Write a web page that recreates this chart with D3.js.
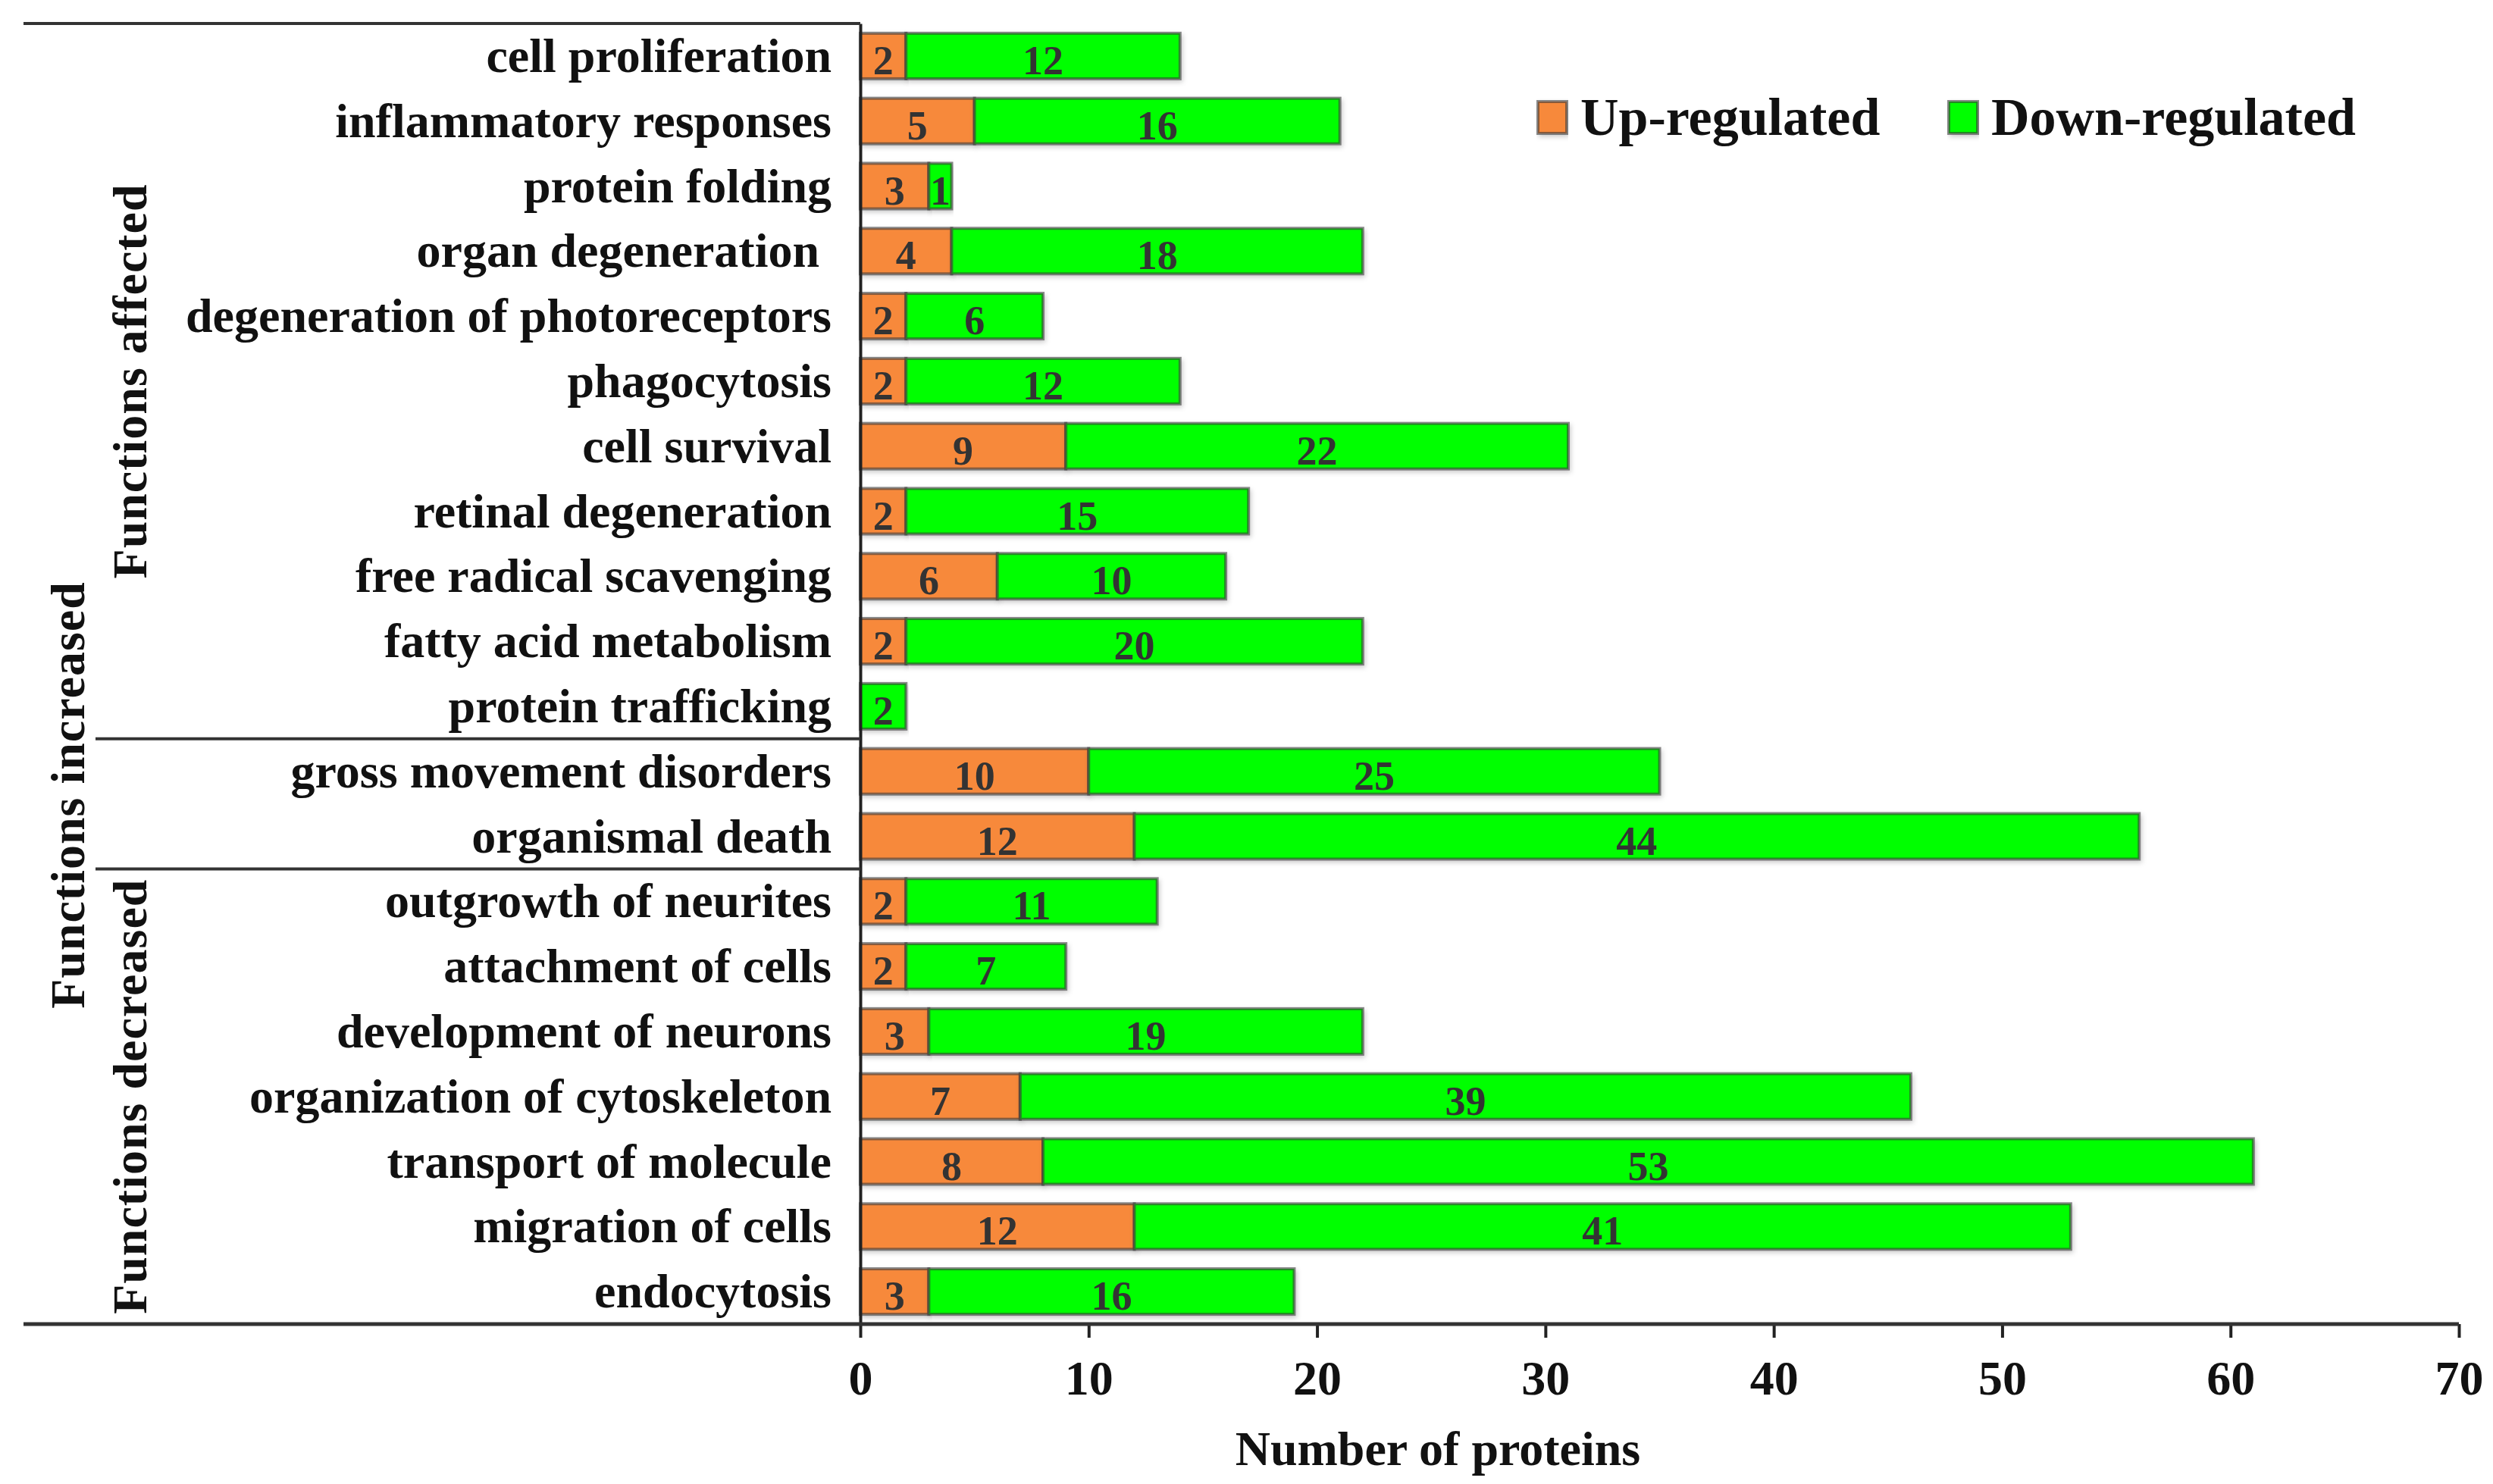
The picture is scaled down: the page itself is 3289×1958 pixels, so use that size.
<!DOCTYPE html>
<html>
<head>
<meta charset="utf-8">
<script src="https://cdn.jsdelivr.net/npm/d3@7"></script>
<style>
  html, body { margin: 0; padding: 0; background: #fff; }
  svg text { font-family: "Liberation Serif", "Times New Roman", serif; font-weight: bold; white-space: pre; }
</style>
</head>
<body>
<svg id="chart" width="3289" height="1958"></svg>
<script>
// категории (сверху вниз)
const categories = [
    "cell proliferation", "inflammatory responses", "protein folding", "organ degeneration ",
    "degeneration of photoreceptors", "phagocytosis", "cell survival", "retinal degeneration",
    "free radical scavenging", "fatty acid metabolism", "protein trafficking",
    "gross movement disorders", "organismal death",
    "outgrowth of neurites", "attachment of cells", "development of neurons",
    "organization of cytoskeleton", "transport of molecule", "migration of cells", "endocytosis"
];
const upValues   = [2, 5, 3, 4, 2, 2, 9, 2, 6, 2, 0, 10, 12, 2, 2, 3, 7, 8, 12, 3];
const downValues = [12, 16, 1, 18, 6, 12, 22, 15, 10, 20, 2, 25, 44, 11, 7, 19, 39, 53, 41, 16];
const xTicks = [0, 10, 20, 30, 40, 50, 60, 70];
const seriesNames = ["Up-regulated", "Down-regulated"];
// группы: подпись, первая и последняя категория
const groups = [
    { label: "Functions affected", from: 0, to: 10, level: 1 },
    { label: "Functions increased", from: 11, to: 12, level: 0 },
    { label: "Functions decreased", from: 13, to: 19, level: 1 }
];

const colors = ["#f7893b", "#00ff00"];
const svg = d3.select("#chart");

const area = { left: 1135, right: 3244, top: 31, bottom: 1747, outerLeft: 31 };

const scX = d3.scaleLinear().domain([0, 70]).range([area.left, area.right]);
const scY = d3.scaleBand().domain(categories).range([area.top, area.bottom])
    .paddingInner(0.3).paddingOuter(0.15);

// тень для столбцов
const defs = svg.append("defs");
const f = defs.append("filter").attr("id", "shadow")
    .attr("x", "-5%").attr("y", "-30%").attr("width", "110%").attr("height", "160%");
f.append("feDropShadow").attr("dx", 2).attr("dy", 3).attr("stdDeviation", 3)
    .attr("flood-color", "#000").attr("flood-opacity", 0.22);

// данные для стека
const rows = categories.map((c, i) => ({ cat: c, up: upValues[i], down: downValues[i] }));
const stack = d3.stack().keys(["up", "down"])(rows);

const gBars = svg.append("g");
stack.forEach((layer, k) => {
    gBars.selectAll(".seg" + k)
        .data(layer.filter(d => d[1] - d[0] > 0))
        .enter()
        .append("rect")
        .attr("x", d => scX(d[0]))
        .attr("y", d => scY(d.data.cat))
        .attr("width", d => scX(d[1]) - scX(d[0]))
        .attr("height", scY.bandwidth())
        .attr("fill", colors[k])
        .attr("stroke", "#3a3a3a")
        .attr("stroke-opacity", 0.6)
        .attr("stroke-width", 4)
        .attr("filter", "url(#shadow)");
});

// подписи значений
stack.forEach((layer, k) => {
    gBars.selectAll(".lab" + k)
        .data(layer.filter(d => d[1] - d[0] > 0))
        .enter()
        .append("text")
        .attr("x", d => (scX(d[0]) + scX(d[1])) / 2)
        .attr("y", d => scY(d.data.cat) + scY.bandwidth() / 2 + 24)
        .attr("text-anchor", "middle")
        .attr("font-size", 54)
        .attr("fill", "#333")
        .text(d => d[1] - d[0]);
});

// ось OY
const axisY = d3.axisLeft(scY).tickSize(0).tickPadding(38);
const gy = svg.append("g")
    .attr("transform", `translate(${area.left},0)`)
    .call(axisY);
gy.select(".domain").attr("stroke", "#222").attr("stroke-width", 4);
gy.selectAll("text")
    .attr("font-size", 64)
    .attr("fill", "#111")
    .attr("dy", 21);

// ось OX
const axisX = d3.axisBottom(scX).tickValues(xTicks).tickSize(18).tickSizeOuter(0).tickPadding(30);
const gx = svg.append("g")
    .attr("transform", `translate(0,${area.bottom})`)
    .call(axisX);
gx.select(".domain").remove();
gx.selectAll(".tick line").attr("stroke", "#222").attr("stroke-width", 4);
gx.selectAll("text")
    .attr("font-size", 64)
    .attr("fill", "#111")
    .attr("dy", "0.7em");

// рамка слева
const lineCol = "#333";
svg.append("line")
    .attr("x1", area.outerLeft).attr("x2", area.right)
    .attr("y1", area.bottom).attr("y2", area.bottom)
    .attr("stroke", lineCol).attr("stroke-width", 5);
svg.append("line")
    .attr("x1", area.outerLeft).attr("x2", area.left)
    .attr("y1", area.top).attr("y2", area.top)
    .attr("stroke", lineCol).attr("stroke-width", 4);
[11, 13].forEach(i => {
    const y = scY(categories[i]) - scY.step() * scY.paddingInner() / 2;
    svg.append("line")
        .attr("x1", 126).attr("x2", area.left)
        .attr("y1", y).attr("y2", y)
        .attr("stroke", lineCol).attr("stroke-width", 4);
});

// подписи групп
const groupX = [111, 193];
const groupY = { 0: 1049 };
groups.forEach(g => {
    const y0 = scY(categories[g.from]) - scY.step() * scY.paddingOuter();
    const y1 = scY(categories[g.to]) + scY.bandwidth() + scY.step() * scY.paddingOuter();
    const cy = g.level === 0 ? groupY[0] : (y0 + y1) / 2;
    svg.append("text")
        .attr("transform", `translate(${groupX[g.level]},${cy}) rotate(-90)`)
        .attr("text-anchor", "middle")
        .attr("font-size", 64)
        .attr("fill", "#111")
        .attr("letter-spacing", 1)
        .text(g.label);
});

// подпись оси OX
svg.append("text")
    .attr("x", 1897).attr("y", 1933)
    .attr("text-anchor", "middle")
    .attr("font-size", 64)
    .attr("fill", "#111")
    .text("Number of proteins");

// легенда
const legendX = [2029, 2571];
const gl = svg.append("g");
seriesNames.forEach((name, k) => {
    gl.append("rect")
        .attr("x", legendX[k]).attr("y", 134)
        .attr("width", 38).attr("height", 42)
        .attr("fill", colors[k])
        .attr("stroke", "#3a3a3a").attr("stroke-opacity", 0.6).attr("stroke-width", 4)
        .attr("filter", "url(#shadow)");
    gl.append("text")
        .attr("x", legendX[k] + 56).attr("y", 178)
        .attr("font-size", 70)
        .attr("fill", "#111")
        .text(name);
});
</script>
</body>
</html>
